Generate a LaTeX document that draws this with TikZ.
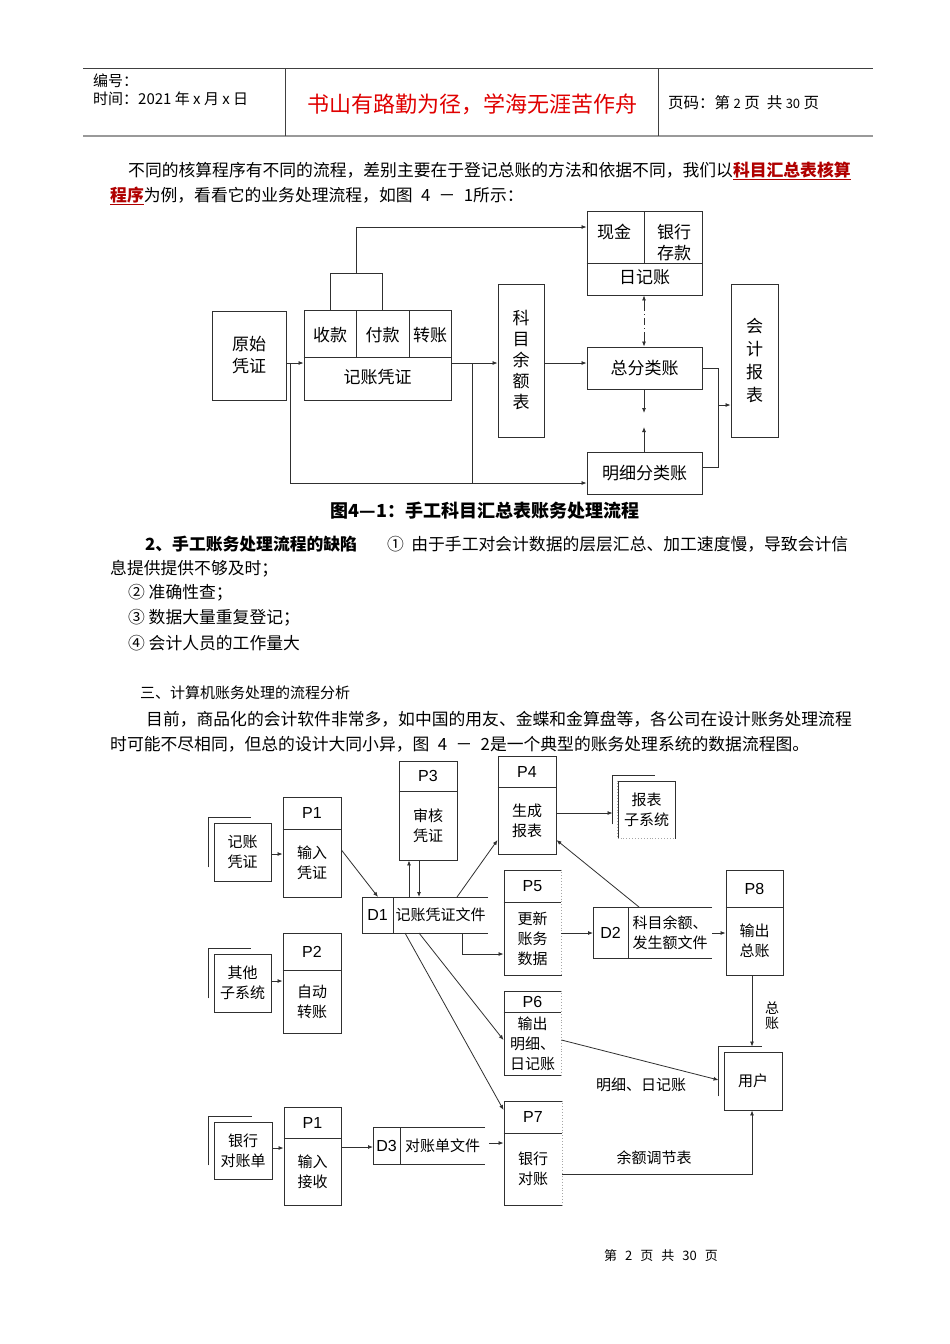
\documentclass[tikz,border=0pt]{standalone}
\usepackage{fontspec}
\setmainfont{Liberation Serif}
\newfontfamily\cjk{Noto Sans CJK SC}
\newfontfamily\arial{Liberation Sans}
\usetikzlibrary{arrows.meta,calc}
\XeTeXlinebreaklocale "zh"
\XeTeXlinebreakskip=0pt plus 4pt
\definecolor{lc}{HTML}{303030}
\definecolor{hred}{HTML}{E00000}
\definecolor{lred}{HTML}{B00000}
\newcommand\bodyf{\cjk\fontsize{16.8}{20}\selectfont}
\newcommand\dfa{\cjk\fontsize{17}{22}\selectfont}
\newcommand\dfb{\cjk\fontsize{15}{20}\selectfont}
\newcommand\dfp{\arial\fontsize{16}{18}\selectfont}
\newcommand\procbox[8]{%
  \node[pbox, minimum width={#4-#2}, minimum height={#5-#3}] (#1) at ({(#2+#4)/2},{(#3+#5)/2}) {};
  \draw[bl] (#1.west |- 0,#6) -- (#1.east |- 0,#6);
  \node[plab] at ({(#2+#4)/2},{(#3+#6)/2}) {#7};
  \node[ptxt] at ({(#2+#4)/2},{(#6+#5)/2}) {#8};
}
\newcommand\entbox[6]{%
  \node[pbox, font=\dfb, minimum width={#4-#2}, minimum height={#5-#3}] (#1) at ({(#2+#4)/2},{(#3+#5)/2}) {#6};
  \draw[bl] ($(#1.south west)+(-5,-14)$) -- ($(#1.north west)+(-5,-5)$) -- ($(#1.north east)+(-20,-5)$);
}
\newcommand\storebox[8]{%
  \node[inner sep=0pt, outer sep=0pt, minimum width={#4-#2}, minimum height={#5-#3}] (#1) at ({(#2+#4)/2},{(#3+#5)/2}) {};
  \draw[bl] (#1.north east) -- (#1.north west) -- (#1.south west) -- (#1.south east);
  \draw[bl] (#6,#3) -- (#6,#5);
  \node[plab] at ({(#2+#6)/2},{(#3+#5)/2}) {#7};
  \node[ptxt] at ({(#6+#4)/2},{(#3+#5)/2}) {#8};
}
\begin{document}
\begin{tikzpicture}[x=1pt,y=-1pt,
  bl/.style={draw=lc, line width=0.9pt},
  arr/.style={draw=lc, line width=0.8pt, -{Latex[length=5pt,width=4pt]}},
  box1/.style={draw=lc, line width=0.9pt, inner sep=0pt, align=center, font=\dfa},
  t1/.style={inner sep=0pt, align=center, font=\dfa},
  pbox/.style={draw=lc, line width=0.9pt, inner sep=0pt, align=center},
  plab/.style={inner sep=0pt, font=\dfp},
  ptxt/.style={inner sep=0pt, align=center, font=\dfb},
  txt/.style={anchor=west, inner sep=0pt, font=\bodyf},
  dotb/.style={draw=gray!70, line width=0.9pt, dotted}]
\fill[white] (0,0) rectangle (950,1344);
\useasboundingbox (0,0) rectangle (950,1344);

% ---------- header ----------
\draw[line width=0.8pt, gray!50!black] (83,68) -- (873,68);
\draw[line width=1.8pt, gray!80] (83,136) -- (873,136);
\draw[line width=0.8pt, gray!50!black] (285,68) -- (285,136);
\draw[line width=0.8pt, gray!50!black] (658,68) -- (658,136);
\node[txt, font=\cjk\fontsize{15}{18}\selectfont] (hn) at (93,81) {编号：};
\node[txt, font=\cjk\fontsize{15}{18}\selectfont] (ht) at (93,99) {时间：2021 年 x 月 x 日};
\node[inner sep=0pt, font=\cjk\fontsize{22}{24}\selectfont, text=hred] (title) at (472,104) {书山有路勤为径，学海无涯苦作舟};
\node[txt, font=\cjk\fontsize{15.5}{18}\selectfont] (hp) at (668,103) {页码：第 {\fontsize{13}{15}\selectfont 2} 页\ \ 共 {\fontsize{13}{15}\selectfont 30} 页};

% ---------- paragraph ----------
\node[txt] (l1) at (128,171) {\hbox to 720pt{不同的核算程序有不同的流程，差别主要在于登记总账的方法和依据不同，我们以\textcolor{lred}{\bfseries\underline{科目汇总表核算}}}};
\node[txt] (l2) at (110,196) {\textcolor{lred}{\bfseries\underline{程序}}为例，看看它的业务处理流程，如图\enspace 4\enspace－\enspace 1所示：};

% ---------- diagram 1 ----------
\node[box1, minimum width=74, minimum height=89] (ys) at (249,355.5) {原始\\凭证};
\node[box1, minimum width=147, minimum height=90] (jz) at (377.5,355) {};
\draw[bl] (jz.west |- 0,357) -- (jz.east |- 0,357);
\draw[bl] (356,310) -- (356,357);
\draw[bl] (409,310) -- (409,357);
\node[t1] (sk) at (330,335) {收款};
\node[t1] (fk) at (382.5,335) {付款};
\node[t1] (zz) at (430,335) {转账};
\node[t1] (jzt) at (377.5,377) {记账凭证};
\node[box1, minimum width=52, minimum height=37] (sb) at (356,291.5) {};
\node[box1, minimum width=46, minimum height=153, font=\cjk\fontsize{17}{21}\selectfont] (km) at (521,360.5) {科\\目\\余\\额\\表};
\node[box1, minimum width=115, minimum height=84] (rj) at (644.5,253) {};
\draw[bl] (rj.west |- 0,263) -- (rj.east |- 0,263);
\draw[bl] (644,211) -- (644,263);
\node[t1] (xj) at (614,232) {现金};
\node[t1, font=\cjk\fontsize{17}{21}\selectfont] (yh) at (674,242.5) {银行\\存款};
\node[t1] (rjt) at (644.5,277) {日记账};
\node[box1, minimum width=115, minimum height=42] (zf) at (644.5,368) {总分类账};
\node[box1, minimum width=115, minimum height=42] (mx) at (644.5,473) {明细分类账};
\node[box1, minimum width=47, minimum height=153, font=\cjk\fontsize{17}{23}\selectfont] (kj) at (754.5,360.5) {会\\计\\报\\表};

\draw[arr] (ys.east |- 0,363) -- (jz.west |- 0,363);
\coordinate (j1) at (290,363);
\draw[arr] (j1) |- (mx.west |- 0,483);
\draw[arr] (jz.east |- 0,363) -- (km.west |- 0,363);
\coordinate (j2) at (472,363);
\coordinate (j3) at (472,483);
\draw[bl] (j2) -- (j3);
\draw[arr] (sb.north) |- (rj.west |- 0,227);
\draw[arr] (km.east |- 0,363) -- (zf.west |- 0,363);
\coordinate (dm1) at (644,304);
\coordinate (dm2) at (644,338);
\draw[draw=lc, line width=0.8pt, dash pattern=on 7pt off 3pt on 1pt off 3pt] (dm1) -- (dm2);
\draw[arr] (dm1) -- (rj.south -| 644,0);
\draw[arr] (dm2) -- (zf.north -| 644,0);
\draw[arr] (zf.south -| 644,0) -- (644,413);
\draw[arr] (mx.north -| 644,0) -- (644,427);
\coordinate (j4) at (718,405);
\draw[bl] (zf.east |- 0,368) -| (718,467) -- (mx.east |- 0,467);
\draw[arr] (j4) -- (kj.west |- j4);

\node[inner sep=0pt, font=\cjk\bfseries\fontsize{18}{20}\selectfont] (cap1) at (485,511) {图4—1：手工科目汇总表账务处理流程};

% ---------- text ----------
\node[txt] (l3a) at (145,544) {\bfseries 2、手工账务处理流程的缺陷};
\node[txt] (l3b) at (387,544) {\hbox to 461pt{① 由于手工对会计数据的层层汇总、加工速度慢，导致会计信}};
\node[txt] (l4) at (110,569) {息提供提供不够及时；};
\node[txt] (l5) at (128,593) {② 准确性查；};
\node[txt] (l6) at (128,618) {③ 数据大量重复登记；};
\node[txt] (l7) at (128,643) {④ 会计人员的工作量大};
\node[txt, font=\cjk\fontsize{15}{18}\selectfont] (l8) at (140,693) {三、计算机账务处理的流程分析};
\node[txt] (l9) at (146,719) {\hbox to 702pt{目前，商品化的会计软件非常多，如中国的用友、金蝶和金算盘等，各公司在设计账务处理流程}};
\node[txt] (l10) at (110,744) {时可能不尽相同，但总的设计大同小异，图\enspace 4\enspace－\enspace 2是一个典型的账务处理系统的数据流程图。};

% ---------- diagram 2 ----------
\entbox{e1}{214}{823}{271}{881}{记账\\凭证}
\procbox{pa}{283}{797}{341}{897}{829}{P1}{输入\\凭证}
\procbox{p3}{399}{761}{457}{860}{791}{P3}{审核\\凭证}
\procbox{p4}{498}{756}{556}{854}{787}{P4}{生成\\报表}
\storebox{d1}{362}{897}{488}{933}{393}{D1}{记账凭证文件}
\procbox{p5}{504}{870}{561}{975}{902}{P5}{更新\\账务\\数据}
\procbox{p2}{283}{933}{341}{1033}{970}{P2}{自动\\转账}
\entbox{e2}{214}{954}{271}{1012}{其他\\子系统}
\procbox{p6}{504}{991}{561}{1075}{1012}{P6}{输出\\明细、\\日记账}
\entbox{e3}{618}{781}{675}{838}{报表\\子系统}
\storebox{d2}{593}{907}{712}{958}{628}{D2}{科目余额、\\发生额文件}
\procbox{p8}{726}{870}{783}{975}{907}{P8}{输出\\总账}
\entbox{us}{724}{1052}{782}{1110}{用户}
\entbox{e5}{214}{1122}{272}{1179}{银行\\对账单}
\procbox{pb}{284}{1107}{341}{1205}{1138}{P1}{输入\\接收}
\storebox{d3}{373}{1127}{485}{1164}{400}{D3}{对账单文件}
\procbox{p7}{504}{1101}{562}{1205}{1133}{P7}{银行\\对账}

% dotted edges
\draw[white, line width=1.2pt] (p5.north east) -- (p5.south east);
\draw[dotb] (p5.north east) -- (p5.south east);
\draw[white, line width=1.2pt] (p6.north east) -- (p6.south east);
\draw[dotb] (p6.north east) -- (p6.south east);
\draw[white, line width=1.2pt] (p7.north east) -- (p7.south east);
\draw[dotb] (p7.north east) -- (p7.south east);
\draw[white, line width=1.2pt] (e3.north west) -- (e3.south west) -- (e3.south east);
\draw[dotb] (e3.north west) -- (e3.south west) -- (e3.south east);

% connectors
\draw[arr] (e1.east |- 0,854) -- (pa.west |- 0,854);
\draw[arr] (pa.east |- 0,850) -- ($(d1.north west)+(16,0)$);
\draw[arr] (d1.north -| 409,0) -- (p3.south -| 409,0);
\draw[arr] (p3.south -| 419,0) -- (d1.north -| 419,0);
\draw[arr] ($(d1.north west)+(95,0)$) -- (p4.west |- 0,840);
\draw[arr] (d1.south -| 462,0) |- (p5.west |- 0,954);
\draw[arr] (d1.south -| 419,0) -- (p6.west |- 0,1040);
\draw[arr] (d1.south -| 405,0) -- (p7.west |- 0,1110);
\draw[arr] (e2.east |- 0,981) -- (p2.west |- 0,981);
\draw[arr] (p4.east |- 0,813) -- ($(e3.west |- 0,813)+(-5,0)$);
\draw[arr] (p5.east |- 0,933) -- (d2.west |- 0,933);
\draw[arr] (d2.east |- 0,933) -- (p8.west |- 0,933);
\draw[arr] ($(d2.north west)+(46,0)$) -- (p4.east |- 0,840);
\draw[arr] (p8.south -| 752,0) -- ($(us.north -| 752,0)+(0,-5)$);
\node[ptxt, font=\cjk\fontsize{14}{15}\selectfont] (zzl) at (772,1016) {总\\账};
\draw[arr] (p6.east |- 0,1040) -- ($(us.west |- 0,1080)+(-5,0)$);
\node[ptxt] (mxl) at (641,1085) {明细、日记账};
\draw[arr] (p7.east |- 0,1174) -| (us.south -| 752,0);
\node[ptxt] (yel) at (654,1158) {余额调节表};
\draw[arr] (e5.east |- 0,1148) -- (pb.west |- 0,1148);
\draw[arr] (pb.east |- 0,1147) -- (d3.west |- 0,1147);
\draw[arr] ($(d3.east |- 0,1143)+(4,0)$) -- (p7.west |- 0,1143);

% ---------- footer ----------
\node[inner sep=0pt, font=\cjk\fontsize{13}{15}\selectfont] (ft) at (661,1256) {第\hspace{8pt}2\hspace{8pt}页\hspace{8pt}共\hspace{8pt}30\hspace{8pt}页};
\end{tikzpicture}
\end{document}
